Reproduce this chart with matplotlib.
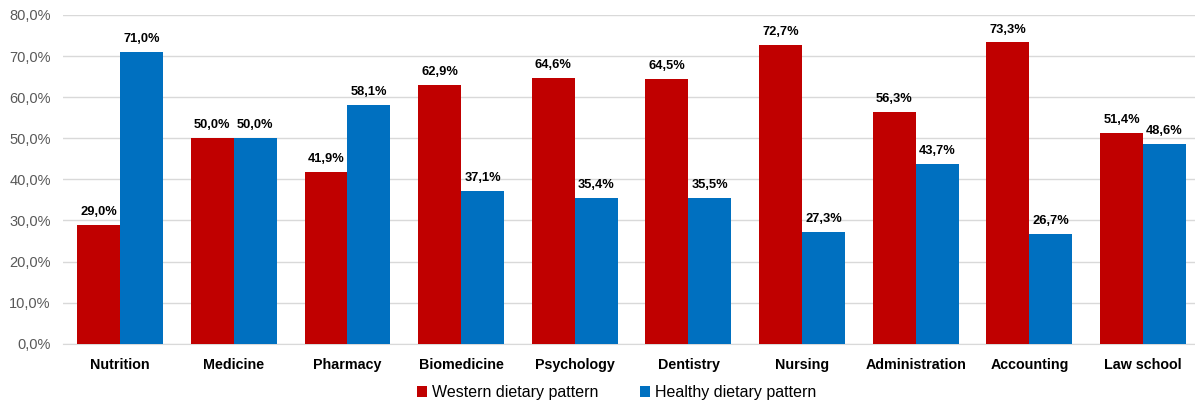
import matplotlib

matplotlib.use("Agg")
import numpy as np
from matplotlib import pyplot as plt
from matplotlib.ticker import FuncFormatter

plt.rcParams["font.family"] = ["Liberation Sans", "DejaVu Sans"]

categories = ["Nutrition", "Medicine", "Pharmacy", "Biomedicine", "Psychology",
              "Dentistry", "Nursing", "Administration", "Accounting", "Law school"]
western = [29.0, 50.0, 41.9, 62.9, 64.6, 64.5, 72.7, 56.3, 73.3, 51.4]
healthy = [71.0, 50.0, 58.1, 37.1, 35.4, 35.5, 27.3, 43.7, 26.7, 48.6]
series_names = ["Western dietary pattern", "Healthy dietary pattern"]
yticks = [0, 10, 20, 30, 40, 50, 60, 70, 80]


def pct(value):
    return f"{value:.1f}%".replace(".", ",")


figure = plt.figure(figsize=(11.95, 4.04), dpi=100)
axis = figure.add_axes([0.053, 0.149, 0.947, 0.814])

x = np.arange(len(categories))
width = 0.378
red, blue = "#C00000", "#0070C0"
bars_w = axis.bar(x - width / 2, western, width, color=red, label=series_names[0], zorder=3)
bars_h = axis.bar(x + width / 2, healthy, width, color=blue, label=series_names[1], zorder=3)

for bars in (bars_w, bars_h):
    for bar in bars:
        axis.annotate(pct(bar.get_height()), (bar.get_x() + bar.get_width() / 2, bar.get_height()),
                      xytext=(0, 5), textcoords="offset points", ha="center", va="bottom",
                      fontsize=9.3, fontweight="bold", color="black")

axis.set_ylim(0, 80)
axis.set_yticks(yticks)
axis.yaxis.set_major_formatter(FuncFormatter(lambda v, _: pct(v)))
axis.set_xlim(-0.5, len(categories) - 0.543)
axis.set_xticks(x)
axis.set_xticklabels(categories, fontweight="bold", fontsize=10.3)
axis.tick_params(axis="y", labelsize=10.5, labelcolor="#595959", length=0, pad=9)
axis.tick_params(axis="x", length=0, pad=10)
axis.grid(axis="y", color="#D9D9D9", linewidth=1, zorder=0)
for side in ("top", "right", "left"):
    axis.spines[side].set_visible(False)
axis.spines["bottom"].set_color("#D9D9D9")

figure.legend(*axis.get_legend_handles_labels(), loc="center", bbox_to_anchor=(0.516, 0.028),
              ncol=2, frameon=False, fontsize=11.5, handlelength=0.65, handleheight=0.65,
              handletextpad=0.3, columnspacing=2.6, borderpad=0)

figure.savefig("out.png", dpi=100)
plt.close(figure)
